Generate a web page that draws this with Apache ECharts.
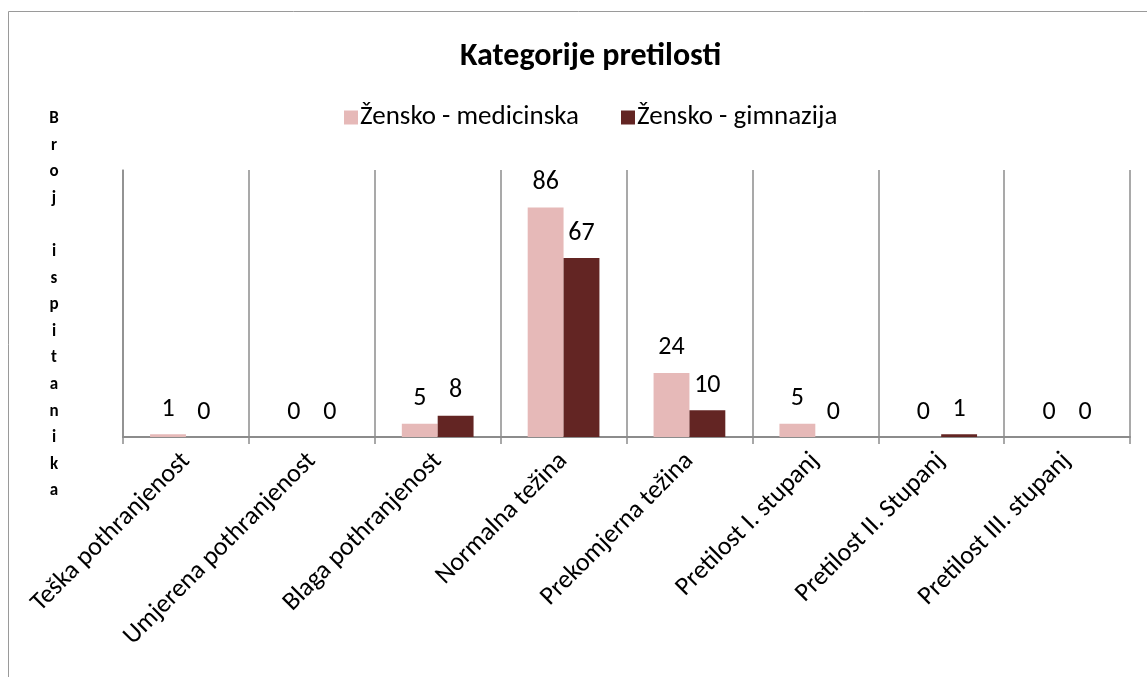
<!DOCTYPE html>
<html>
<head>
<meta charset="utf-8"/>
<title>Kategorije pretilosti</title>
<script src="https://cdn.jsdelivr.net/npm/echarts@6/dist/echarts.min.js"></script>
<style>
  html, body { margin: 0; padding: 0; background: #fff; }
  #container { width: 1147px; height: 677px; }
</style>
</head>
<body>
<div id="container"></div>
<script type="text/javascript">
    // kategorije i vrijednosti (broj ispitanika)
    var categories = ['Teška pothranjenost', 'Umjerena pothranjenost', 'Blaga pothranjenost', 'Normalna težina',
        'Prekomjerna težina', 'Pretilost I. stupanj', 'Pretilost II. Stupanj', 'Pretilost III. stupanj'];
    var seriesNames = ['Žensko - medicinska', 'Žensko - gimnazija'];
    var medicinska = [1, 0, 5, 86, 24, 5, 0, 0];
    var gimnazija = [0, 0, 8, 67, 10, 0, 1, 0];
    var yAxisName = 'Broj ispitanika';

    var fontFam = 'Carlito, Calibri, "Liberation Sans", Arial, sans-serif';
    var gridColor = '#8c8c8c';

    var myChart = echarts.init(document.getElementById('container'));

    function barSeries(name, data, color) {
        return {
            name: name,
            type: 'bar',
            data: data,
            barGap: '0%',
            barCategoryGap: '43%',
            itemStyle: { color: color },
            label: {
                show: true,
                position: 'top',
                distance: 12,
                color: '#000',
                fontSize: 26,
                fontFamily: fontFam
            }
        };
    }

    var option = {
        animation: false,
        textStyle: { fontFamily: fontFam },
        title: {
            text: 'Kategorije pretilosti',
            left: 455,
            top: 36,
            textStyle: { fontSize: 32, fontWeight: 'bold', color: '#000', fontFamily: fontFam }
        },
        legend: {
            data: seriesNames,
            left: 339,
            top: 99,
            icon: 'rect',
            itemWidth: 14,
            itemHeight: 14,
            itemGap: 42,
            textStyle: { fontSize: 27, color: '#000', padding: [0, 0, 0, -3], fontFamily: fontFam }
        },
        grid: { left: 123, right: 17, top: 170, bottom: 240 },
        graphic: [
            {
                type: 'rect',
                shape: { x: 8.5, y: 11.5, width: 1200, height: 800 },
                style: { fill: 'none', stroke: '#9a9a9a', lineWidth: 1 },
                silent: true
            },
            {
                type: 'text',
                x: 54,
                y: 305,
                style: {
                    text: yAxisName.split('').join('\n'),
                    align: 'center',
                    verticalAlign: 'middle',
                    lineHeight: 26.6,
                    fontSize: 17,
                    fontWeight: 'bold',
                    fill: '#000',
                    fontFamily: fontFam
                }
            }
        ],
        xAxis: {
            type: 'category',
            data: categories,
            axisLine: { lineStyle: { color: gridColor, width: 2 } },
            axisTick: { show: true, length: 7, lineStyle: { color: gridColor, width: 1.5 } },
            splitLine: { show: true, lineStyle: { color: gridColor, width: 1.5 } },
            axisLabel: {
                rotate: 45,
                interval: 0,
                margin: 20,
                fontSize: 26,
                color: '#000',
                fontFamily: fontFam
            }
        },
        yAxis: {
            type: 'value',
            min: 0,
            max: 100,
            axisLine: { show: true, lineStyle: { color: gridColor, width: 1.5 } },
            axisTick: { show: false },
            axisLabel: { show: false },
            splitLine: { show: false }
        },
        series: [
            barSeries(seriesNames[0], medicinska, '#e6b9b8'),
            barSeries(seriesNames[1], gimnazija, '#632523')
        ]
    };

    myChart.setOption(option);
</script>
</body>
</html>
